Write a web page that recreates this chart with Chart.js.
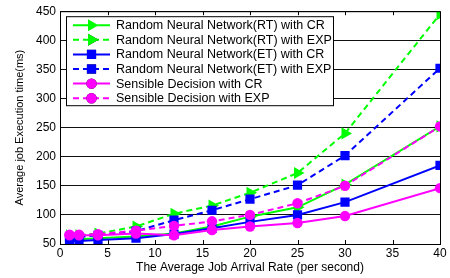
<!DOCTYPE html>
<html>
<head>
<meta charset="utf-8">
<script src="https://cdn.jsdelivr.net/npm/chart.js@4.4.0/dist/chart.umd.min.js"></script>
<style>
  html, body { margin: 0; padding: 0; background: #fff; }
  #wrap { width: 450px; height: 278px; position: relative; }
</style>
</head>
<body>
<div id="wrap"><canvas id="mycanvas" width="450" height="278"></canvas></div>
<script>
// arrival rates (per second)
var rates = [1, 2, 4, 8, 12, 16, 20, 25, 30, 40];

// execution time (ms)
var rnnRtCr  = [58, 58, 60, 63, 68, 80, 97, 113, 152, 252];
var rnnRtExp = [65, 65, 68, 80, 102, 116, 138, 172, 240, 445];
var rnnEtCr  = [55, 55, 57, 60, 67, 77, 88, 100, 122, 185];
var rnnEtExp = [62, 62, 65, 72, 91, 108, 127, 151, 202, 352];
var sdCr     = [65, 65, 65, 68, 65, 74, 80, 86, 98, 146];
var sdExp    = [66, 66, 67, 73, 81, 89, 100, 120, 150, 252];

var labels = [
	"Random Neural Network(RT) with CR",
	"Random Neural Network(RT) with EXP",
	"Random Neural Network(ET) with CR",
	"Random Neural Network(ET) with EXP",
	"Sensible Decision with CR",
	"Sensible Decision with EXP"
];

var FONT = "'Liberation Sans', Arial, sans-serif";

function pts(arr) {
	var out = [];
	for (var i in arr) {
		out.push({x: rates[i], y: arr[i]});
	}
	return out;
}

function ds(n, data, color, dashed, style, size, rot) {
	return {
		label: labels[n],
		data: pts(data),
		order: 6 - n,  // later series on top, like matlab
		fill: false,
		borderColor: color,
		backgroundColor: color,
		borderWidth: 2,
		borderDash: dashed ? [6, 4] : [],
		pointStyle: style,
		pointRotation: rot || 0,
		pointRadius: size,
		pointBorderWidth: 0,
		tension: 0
	};
}

var chartdata = {
	datasets: [
		ds(0, rnnRtCr, "#00ff00", false, "triangle", 7, 90),
		ds(1, rnnRtExp, "#00ff00", true, "triangle", 7, 90),
		ds(2, rnnEtCr, "#0000ff", false, "rect", 6.5),
		ds(3, rnnEtExp, "#0000ff", true, "rect", 6.5),
		ds(4, sdCr, "#ff00ff", false, "circle", 5.2),
		ds(5, sdExp, "#ff00ff", true, "circle", 5.2)
	]
};

// matlab style box, inner ticks and legend inside the axes
var boxPlugin = {
	id: "boxPlugin",
	afterDraw: function(chart) {
		var c = chart.ctx;
		var a = chart.chartArea;
		var xs = chart.scales.x;
		c.save();
		c.strokeStyle = "#000";
		c.lineWidth = 1;
		c.strokeRect(a.left + 0.5, a.top + 0.5, a.right - a.left, a.bottom - a.top);
		c.beginPath();
		for (var v = 5; v < 40; v += 5) {
			var px = Math.round(xs.getPixelForValue(v)) + 0.5;
			c.moveTo(px, a.bottom); c.lineTo(px, a.bottom - 4);
			c.moveTo(px, a.top); c.lineTo(px, a.top + 4);
		}
		c.stroke();

		// legend
		var lx = a.left + 6, ly = a.top + 5, lw = 267, lh = 89;
		c.fillStyle = "#fff";
		c.fillRect(lx, ly, lw, lh);
		c.strokeRect(lx + 0.5, ly + 0.5, lw, lh);
		c.font = "12.5px " + FONT;
		c.textBaseline = "middle";
		var sets = chart.data.datasets;
		for (var i = 0; i < sets.length; i++) {
			var d = sets[i];
			var yy = ly + 9 + i * 14.6;
			c.strokeStyle = d.borderColor;
			c.lineWidth = 2;
			c.setLineDash(d.borderDash);
			c.beginPath();
			c.moveTo(lx + 7, yy); c.lineTo(lx + 44, yy);
			c.stroke();
			c.setLineDash([]);
			Chart.helpers.drawPoint(c, {
				pointStyle: d.pointStyle, rotation: d.pointRotation,
				radius: d.pointRadius, borderWidth: 0
			}, lx + 25.5, yy);
			c.fillStyle = d.borderColor;
			c.fill();
			c.fillStyle = "#000";
			c.fillText(d.label, lx + 50, yy + 0.5);
		}
		c.restore();
	}
};

var ctx = document.getElementById("mycanvas");

var LineGraph = new Chart(ctx, {
	type: 'line',
	data: chartdata,
	plugins: [boxPlugin],
	options: {
		responsive: false,
		animation: false,
		layout: { padding: { left: 13, right: 10, top: 10, bottom: 0 } },
		plugins: {
			legend: { display: false },
			tooltip: { enabled: false }
		},
		scales: {
			x: {
				type: 'linear',
				min: 0, max: 40,
				ticks: { stepSize: 5, color: "#000", font: { family: FONT, size: 12 }, padding: 2, maxRotation: 0 },
				grid: { display: false, drawTicks: false },
				border: { display: false },
				title: { display: true, text: "The Average Job Arrival Rate (per second)", color: "#000",
					font: { family: FONT, size: 12 }, padding: { top: 0, bottom: 3 } },
				afterFit: function(s) { s.height = 34; }
			},
			y: {
				min: 50, max: 450,
				ticks: { stepSize: 50, color: "#000", font: { family: FONT, size: 12 }, padding: 4 },
				grid: { color: "#111", lineWidth: 1, drawTicks: false },
				border: { display: false },
				title: { display: true, text: "Average job Execution time(ms)", color: "#000",
					font: { family: FONT, size: 11 }, padding: { top: 0, bottom: 2 } },
				afterFit: function(s) { s.width = 47; }
			}
		}
	}
});
</script>
</body>
</html>
